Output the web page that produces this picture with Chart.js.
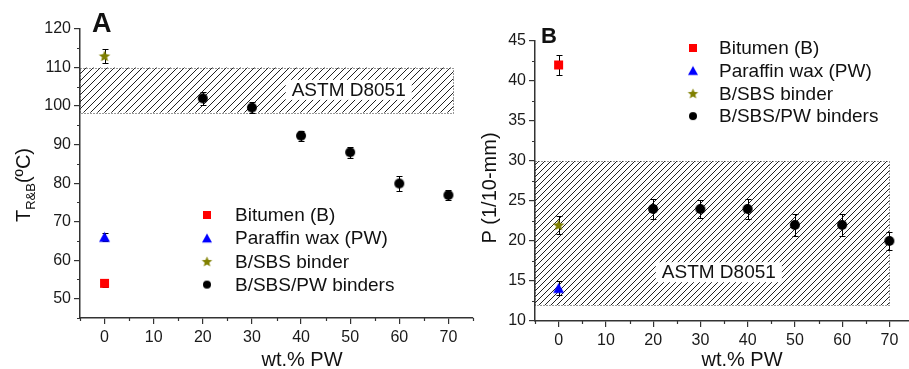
<!DOCTYPE html>
<html>
<head>
<meta charset="utf-8">
<script src="https://cdn.jsdelivr.net/npm/chart.js@4.4.0/dist/chart.umd.min.js"></script>
<style>
html, body { margin: 0; padding: 0; background: #fff; overflow: hidden; width: 909px; height: 369px; }
#graphA { position: absolute; left: 0; top: 0; }
#graphB { position: absolute; left: 460px; top: 0; }
</style>
</head>
<body>
<canvas id="graphA" width="480" height="369"></canvas>
<canvas id="graphB" width="460" height="369"></canvas>
<script>
// Données
const seriesNoms = ['Bitumen (B)', 'Paraffin wax (PW)', 'B/SBS binder', 'B/SBS/PW binders'];
const wtPW = [20, 30, 40, 50, 60, 70];
const ticksX = [0, 10, 20, 30, 40, 50, 60, 70];

// A : point de ramollissement (°C)
const ticksYA = [50, 60, 70, 80, 90, 100, 110, 120];
const tBitumen = [54], tBitumenErr = [1];
const tParaffine = [66], tParaffineErr = [1];
const tSBS = [113], tSBSErr = [1.7];
const tMelanges = [102, 99.6, 92.3, 88, 79.9, 76.9];
const tMelangesErr = [1.6, 1.5, 1.3, 1.4, 1.9, 1.2];
const astmXA = [-5, 71];
const astmYA = [98.3, 110];

// B : pénétration (1/10 mm)
const ticksYB = [10, 15, 20, 25, 30, 35, 40, 45];
const pBitumen = [42], pBitumenErr = [1.2];
const pParaffine = [14.1], pParaffineErr = [0.9];
const pSBS = [22], pSBSErr = [1.1];
const pMelanges = [24, 24, 24, 22, 22, 20];
const pMelangesErr = [1.2, 1.1, 1.3, 1.4, 1.4, 1.1];
const astmXB = [-5, 70];
const astmYB = [12, 30];

const couleurs = ['#ff0000', '#0000ff', '#808000', '#000000'];
const formes = ['rect', 'triangle', 'star', 'circle'];
const POLICE = '"Liberation Sans", Arial, sans-serif';

// Dessin d'un marqueur sur un petit canvas (utilisé comme pointStyle)
function marqueur(forme, taille, couleur) {
    const c = document.createElement('canvas');
    c.width = taille + 2;
    c.height = taille + 2;
    const g = c.getContext('2d');
    const m = (taille + 2) / 2;
    const r = taille / 2;
    g.fillStyle = couleur;
    g.beginPath();
    if (forme === 'rect') {
        g.rect(m - r, m - r, taille, taille);
    } else if (forme === 'triangle') {
        const h = taille * 0.87;
        g.moveTo(m, m - h / 2 - 0.5);
        g.lineTo(m + r, m + h / 2);
        g.lineTo(m - r, m + h / 2);
        g.closePath();
    } else if (forme === 'star') {
        for (let i = 0; i < 10; i++) {
            const rr = i % 2 === 0 ? r : r * 0.45;
            const a = -Math.PI / 2 + i * Math.PI / 5;
            const px = m + rr * Math.cos(a);
            const py = m + 0.5 + rr * Math.sin(a);
            if (i === 0) g.moveTo(px, py); else g.lineTo(px, py);
        }
        g.closePath();
    } else {
        g.arc(m, m, r, 0, Math.PI * 2);
    }
    g.fill();
    return c;
}

const taillesPoints = [9, 11, 12, 10];
const taillesLegende = [8, 10, 11, 8];
const imgPoints = formes.map((f, i) => marqueur(f, taillesPoints[i], couleurs[i]));
const imgLegende = formes.map((f, i) => marqueur(f, taillesLegende[i], couleurs[i]));

function jeu(i, xs, ys, errs) {
    return {
        label: seriesNoms[i],
        data: xs.map((x, k) => ({ x: x, y: ys[k] })),
        erreurs: errs,
        pointStyle: imgPoints[i],
        pointRadius: 6,
        showLine: false,
        clip: false
    };
}

// Barres d'erreur
const barresErreur = {
    id: 'barresErreur',
    beforeDatasetsDraw(chart) {
        const ctx = chart.ctx;
        const y = chart.scales.y;
        ctx.save();
        ctx.strokeStyle = '#000';
        ctx.lineWidth = 1;
        chart.data.datasets.forEach((ds, i) => {
            const meta = chart.getDatasetMeta(i);
            meta.data.forEach((pt, k) => {
                const v = ds.data[k].y;
                const e = ds.erreurs[k];
                const haut = Math.round(y.getPixelForValue(v + e)) + 0.5;
                const bas = Math.round(y.getPixelForValue(v - e)) + 0.5;
                const px = Math.round(pt.x) + 0.5;
                ctx.beginPath();
                ctx.moveTo(px, haut); ctx.lineTo(px, bas);
                ctx.moveTo(px - 3, haut); ctx.lineTo(px + 3, haut);
                ctx.moveTo(px - 3, bas); ctx.lineTo(px + 3, bas);
                ctx.stroke();
            });
        });
        ctx.restore();
    }
};

// Zone hachurée ASTM D8051
function motifHachure(ctx, pas) {
    const t = document.createElement('canvas');
    t.width = pas; t.height = pas;
    const g = t.getContext('2d');
    g.strokeStyle = '#222';
    g.lineWidth = 1;
    g.beginPath();
    g.moveTo(-1, pas + 1); g.lineTo(pas + 1, -1);
    g.moveTo(-1, 1); g.lineTo(1, -1);
    g.moveTo(pas - 1, pas + 1); g.lineTo(pas + 1, pas - 1);
    g.stroke();
    return ctx.createPattern(t, 'repeat');
}

const zoneAstm = {
    id: 'zoneAstm',
    beforeDatasetsDraw(chart, args, opts) {
        const ctx = chart.ctx;
        const sx = chart.scales.x, sy = chart.scales.y;
        const x1 = sx.getPixelForValue(opts.xs[0]);
        const x2 = sx.getPixelForValue(opts.xs[1]);
        const y1 = sy.getPixelForValue(opts.ys[1]);
        const y2 = sy.getPixelForValue(opts.ys[0]);
        ctx.save();
        ctx.fillStyle = motifHachure(ctx, opts.pas);
        ctx.fillRect(x1, y1, x2 - x1, y2 - y1);
        ctx.strokeStyle = '#333';
        ctx.lineWidth = 1;
        ctx.setLineDash([1, 2]);
        ctx.strokeRect(Math.round(x1) + 0.5, Math.round(y1) + 0.5, Math.round(x2 - x1), Math.round(y2 - y1));
        ctx.setLineDash([]);
        // étiquette
        const lx = sx.getPixelForValue(opts.etiquette[0]);
        const ly = sy.getPixelForValue(opts.etiquette[1]);
        ctx.font = '19px ' + POLICE;
        const w = ctx.measureText('ASTM D8051').width;
        ctx.fillStyle = '#fff';
        ctx.fillRect(lx - w / 2 - 6, ly - 10, w + 12, 20);
        ctx.fillStyle = '#111';
        ctx.textAlign = 'center';
        ctx.textBaseline = 'middle';
        ctx.fillText('ASTM D8051', lx, ly + 1);
        ctx.restore();
    }
};

// Petites graduations
const mineurs = {
    id: 'mineurs',
    afterDraw(chart, args, opts) {
        const ctx = chart.ctx;
        const sx = chart.scales.x, sy = chart.scales.y;
        ctx.save();
        ctx.strokeStyle = '#333';
        ctx.lineWidth = 1.2;
        ctx.beginPath();
        for (let v = sx.min; v <= sx.max + 1e-9; v += opts.x) {
            if (Math.abs(v % (opts.x * 2)) < 1e-9) continue;
            const p = Math.round(sx.getPixelForValue(v)) + 0.5;
            ctx.moveTo(p, sx.top); ctx.lineTo(p, sx.top + 3);
        }
        for (let v = opts.y0; v <= sy.max + 1e-9; v += opts.y * 2) {
            const p = Math.round(sy.getPixelForValue(v)) + 0.5;
            ctx.moveTo(sy.right, p); ctx.lineTo(sy.right - 3, p);
        }
        ctx.stroke();
        ctx.restore();
    }
};

// Textes : lettre du panneau, titres d'axes, légende
const textes = {
    id: 'textes',
    afterDraw(chart, args, opts) {
        const ctx = chart.ctx;
        ctx.save();
        ctx.fillStyle = '#111';
        ctx.textAlign = 'left';
        ctx.textBaseline = 'alphabetic';
        ctx.font = 'bold ' + opts.lettre.taille + 'px ' + POLICE;
        ctx.fillText(opts.lettre.texte, opts.lettre.x, opts.lettre.y);

        ctx.font = '20px ' + POLICE;
        ctx.textAlign = 'center';
        ctx.fillText('wt.% PW', opts.titreX[0], opts.titreX[1]);

        // titre vertical
        ctx.save();
        ctx.translate(opts.titreY.x, opts.titreY.y);
        ctx.rotate(-Math.PI / 2);
        ctx.textAlign = opts.titreY.align;
        let cx = 0;
        opts.titreY.morceaux.forEach(m => {
            ctx.font = m.taille + 'px ' + POLICE;
            ctx.fillText(m.t, cx, m.dy || 0);
            cx += ctx.measureText(m.t).width;
        });
        ctx.restore();

        // légende
        ctx.font = '19px ' + POLICE;
        ctx.textAlign = 'left';
        ctx.textBaseline = 'middle';
        seriesNoms.forEach((nom, i) => {
            const yy = opts.legende.y + i * opts.legende.pas;
            const img = imgLegende[i];
            ctx.drawImage(img, opts.legende.xm - img.width / 2, yy - img.height / 2);
            ctx.fillText(nom, opts.legende.xt, yy + 1);
        });
        ctx.restore();
    }
};

function echelles(ticksY, ymin, ymax, largeurY, hauteurX) {
    const grille = { display: true, drawOnChartArea: false, drawTicks: true, tickLength: 6, color: '#333', lineWidth: 1.2 };
    const police = { family: POLICE, size: 16 };
    return {
        x: {
            type: 'linear', min: -5, max: 75,
            afterBuildTicks: s => { s.ticks = ticksX.map(v => ({ value: v })); },
            afterFit: s => { s.height = hauteurX; },
            grid: grille,
            border: { color: '#333', width: 1.5 },
            ticks: { font: police, color: '#1a1a1a', padding: 4, maxRotation: 0 }
        },
        y: {
            type: 'linear', min: ymin, max: ymax,
            afterBuildTicks: s => { s.ticks = ticksY.map(v => ({ value: v })); },
            afterFit: s => { s.width = largeurY; },
            grid: grille,
            border: { color: '#333', width: 1.5 },
            ticks: { font: police, color: '#1a1a1a', padding: 3 }
        }
    };
}

function optionsCommunes(padding, sc, plugins) {
    return {
        responsive: false,
        animation: false,
        devicePixelRatio: 1,
        layout: { padding: padding },
        scales: sc,
        plugins: Object.assign({ legend: { display: false }, tooltip: { enabled: false } }, plugins)
    };
}

// Graphique A
new Chart(document.getElementById('graphA').getContext('2d'), {
    type: 'scatter',
    data: {
        datasets: [
            jeu(0, [0], tBitumen, tBitumenErr),
            jeu(1, [0], tParaffine, tParaffineErr),
            jeu(2, [0], tSBS, tSBSErr),
            jeu(3, wtPW, tMelanges, tMelangesErr)
        ]
    },
    options: optionsCommunes({ top: 29, right: 5, left: 0, bottom: 0 }, echelles(ticksYA, 45, 120, 80, 51), {
        zoneAstm: { xs: astmXA, ys: astmYA, pas: 7, etiquette: [49.7, 104.2] },
        mineurs: { x: 5, y: 5, y0: 45 },
        textes: {
            lettre: { texte: 'A', taille: 27, x: 92, y: 32 },
            titreX: [302, 366],
            titreY: { x: 30, y: 222, align: 'left', morceaux: [
                { t: 'T', taille: 20 },
                { t: 'R&B', taille: 13, dy: 5 },
                { t: '(ºC)', taille: 20 }
            ] },
            legende: { xm: 207, xt: 235, y: 215, pas: 23.2 }
        }
    }),
    plugins: [zoneAstm, barresErreur, mineurs, textes]
});

// Graphique B
new Chart(document.getElementById('graphB').getContext('2d'), {
    type: 'scatter',
    data: {
        datasets: [
            jeu(0, [0], pBitumen, pBitumenErr),
            jeu(1, [0], pParaffine, pParaffineErr),
            jeu(2, [0], pSBS, pSBSErr),
            jeu(3, wtPW, pMelanges, pMelangesErr)
        ]
    },
    options: optionsCommunes({ top: 41, right: 2, left: 0, bottom: 0 }, echelles(ticksYB, 10, 45, 75, 48), {
        zoneAstm: { xs: astmXB, ys: astmYB, pas: 6, etiquette: [33.9, 16.1] },
        mineurs: { x: 5, y: 2.5, y0: 12.5 },
        textes: {
            lettre: { texte: 'B', taille: 22, x: 81, y: 43 },
            titreX: [282, 366],
            titreY: { x: 36, y: 188, align: 'center', morceaux: [
                { t: 'P (1/10-mm)', taille: 20 }
            ] },
            legende: { xm: 233, xt: 259, y: 48, pas: 22.7 }
        }
    }),
    plugins: [zoneAstm, barresErreur, mineurs, textes]
});
</script>
</body>
</html>
